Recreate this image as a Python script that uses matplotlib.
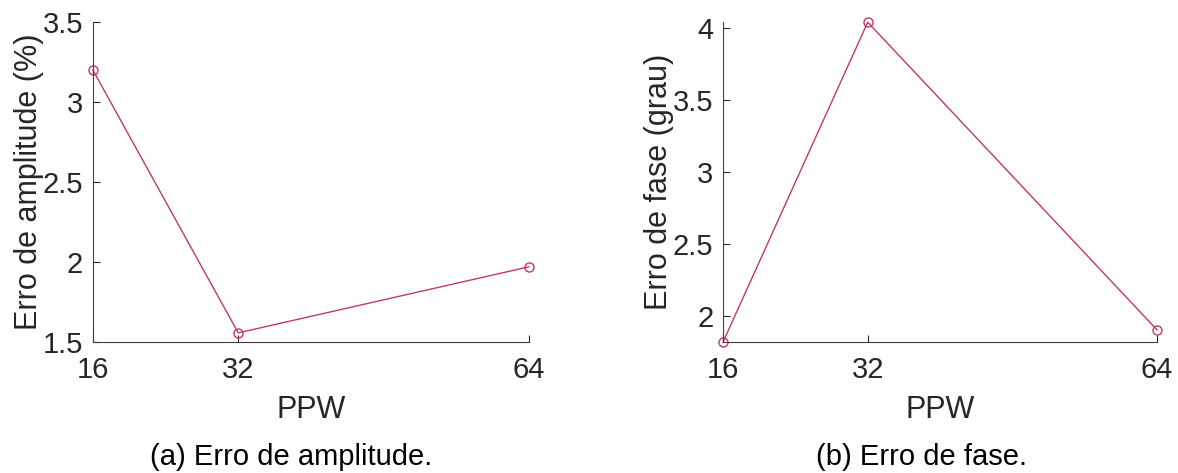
import matplotlib.pyplot as plt

plt.rcParams['font.family'] = ['Liberation Sans', 'DejaVu Sans']

ppw = [16, 32, 64]
amp_err = [3.20, 1.557, 1.97]
phase_err = [1.816, 4.04, 1.90]

amp_ticks = [1.5, 2, 2.5, 3, 3.5]
amp_ticklabels = ['1.5', '2', '2.5', '3', '3.5']
phase_ticks = [2, 2.5, 3, 3.5, 4]
phase_ticklabels = ['2', '2.5', '3', '3.5', '4']

LINE_COLOR = '#c23a5c'
AX_COLOR = '#262626'


def style_axes(ax):
    for side in ['top', 'right']:
        ax.spines[side].set_visible(False)
    for side in ['left', 'bottom']:
        ax.spines[side].set_color('#404040')
        ax.spines[side].set_linewidth(0.8)
    ax.tick_params(direction='in', length=5, width=0.8, colors=AX_COLOR,
                   labelsize=21)
    ax.tick_params(axis='x', pad=10)
    ax.tick_params(axis='y', pad=7)
    ax.set_xlim(16, 64)
    ax.set_xticks(ppw)
    ax.set_xticklabels([str(p) for p in ppw])
    ax.set_xlabel('PPW', fontsize=22, color=AX_COLOR, labelpad=8)


fig = plt.figure(figsize=(11.78, 4.73), dpi=100)

# (a) amplitude error
ax1 = fig.add_axes([0.0789, 0.277, 0.370, 0.676])
ax1.plot(ppw, amp_err, '-o', color=LINE_COLOR, lw=1.0, ms=6.5,
         mfc='none', mew=1.0, clip_on=False)
style_axes(ax1)
ax1.set_ylim(1.5, 3.5)
ax1.set_yticks(amp_ticks)
ax1.set_yticklabels(amp_ticklabels)
ax1.set_ylabel('Erro de amplitude (%)', fontsize=22, color=AX_COLOR, labelpad=-1)

# (b) phase error
ax2 = fig.add_axes([0.6138, 0.277, 0.3684, 0.676])
ax2.plot(ppw, phase_err, '-o', color=LINE_COLOR, lw=1.0, ms=6.5,
         mfc='none', mew=1.0, clip_on=False)
style_axes(ax2)
ax2.set_ylim(min(phase_err), max(phase_err))
ax2.set_yticks(phase_ticks)
ax2.set_yticklabels(phase_ticklabels)
ax2.set_ylabel('Erro de fase (grau)', fontsize=22, color=AX_COLOR, labelpad=-1)

fig.text(0.247, 0.004, '(a) Erro de amplitude.', fontsize=21, ha='center', va='bottom')
fig.text(0.782, 0.004, '(b) Erro de fase.', fontsize=21, ha='center', va='bottom')

fig.savefig('out.png', dpi=100)
